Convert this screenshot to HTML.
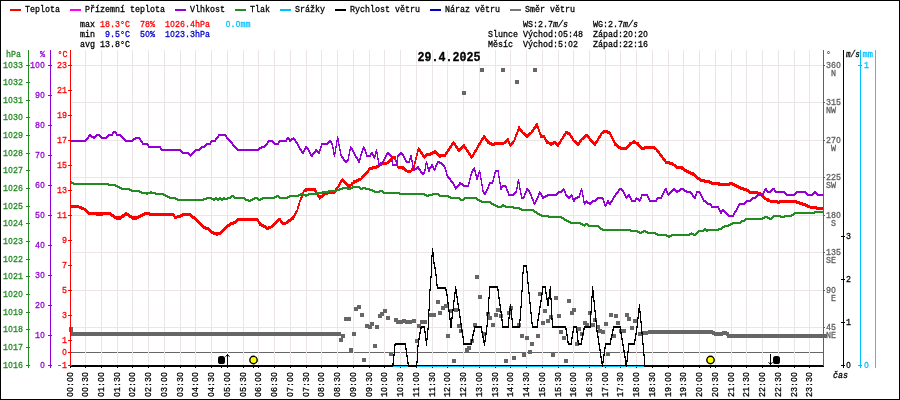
<!DOCTYPE html>
<html><head><meta charset="utf-8"><title>Graf 29.4.2025</title>
<style>html,body{margin:0;padding:0;background:#fff;}svg{display:block;will-change:transform;}text{font-family:"Liberation Mono",monospace;white-space:pre;stroke-width:0.3px;paint-order:stroke fill;}.z{font-family:"Liberation Sans",sans-serif;}</style>
</head><body>
<svg width="900" height="400" viewBox="0 0 900 400">
<rect x="0" y="0" width="900" height="400" fill="#fff"/>
<g shape-rendering="crispEdges">
<rect x="71" y="352" width="752" height="1" fill="#666666"/>
<rect x="85" y="50" width="1" height="315" fill="#ece5e5"/>
<rect x="101" y="50" width="1" height="315" fill="#ece5e5"/>
<rect x="117" y="50" width="1" height="315" fill="#ece5e5"/>
<rect x="132" y="50" width="1" height="315" fill="#ece5e5"/>
<rect x="148" y="50" width="1" height="315" fill="#ece5e5"/>
<rect x="164" y="50" width="1" height="315" fill="#ece5e5"/>
<rect x="180" y="50" width="1" height="315" fill="#ece5e5"/>
<rect x="195" y="50" width="1" height="315" fill="#ece5e5"/>
<rect x="211" y="50" width="1" height="315" fill="#ece5e5"/>
<rect x="227" y="50" width="1" height="315" fill="#ece5e5"/>
<rect x="243" y="50" width="1" height="315" fill="#ece5e5"/>
<rect x="258" y="50" width="1" height="315" fill="#ece5e5"/>
<rect x="274" y="50" width="1" height="315" fill="#ece5e5"/>
<rect x="290" y="50" width="1" height="315" fill="#ece5e5"/>
<rect x="306" y="50" width="1" height="315" fill="#ece5e5"/>
<rect x="321" y="50" width="1" height="315" fill="#ece5e5"/>
<rect x="337" y="50" width="1" height="315" fill="#ece5e5"/>
<rect x="353" y="50" width="1" height="315" fill="#ece5e5"/>
<rect x="369" y="50" width="1" height="315" fill="#ece5e5"/>
<rect x="384" y="50" width="1" height="315" fill="#ece5e5"/>
<rect x="400" y="50" width="1" height="315" fill="#ece5e5"/>
<rect x="416" y="50" width="1" height="315" fill="#ece5e5"/>
<rect x="432" y="50" width="1" height="315" fill="#ece5e5"/>
<rect x="447" y="50" width="1" height="315" fill="#ece5e5"/>
<rect x="463" y="50" width="1" height="315" fill="#ece5e5"/>
<rect x="479" y="50" width="1" height="315" fill="#ece5e5"/>
<rect x="495" y="50" width="1" height="315" fill="#ece5e5"/>
<rect x="510" y="50" width="1" height="315" fill="#ece5e5"/>
<rect x="526" y="50" width="1" height="315" fill="#ece5e5"/>
<rect x="542" y="50" width="1" height="315" fill="#ece5e5"/>
<rect x="558" y="50" width="1" height="315" fill="#ece5e5"/>
<rect x="573" y="50" width="1" height="315" fill="#ece5e5"/>
<rect x="589" y="50" width="1" height="315" fill="#ece5e5"/>
<rect x="605" y="50" width="1" height="315" fill="#ece5e5"/>
<rect x="620" y="50" width="1" height="315" fill="#ece5e5"/>
<rect x="636" y="50" width="1" height="315" fill="#ece5e5"/>
<rect x="652" y="50" width="1" height="315" fill="#ece5e5"/>
<rect x="668" y="50" width="1" height="315" fill="#ece5e5"/>
<rect x="683" y="50" width="1" height="315" fill="#ece5e5"/>
<rect x="699" y="50" width="1" height="315" fill="#ece5e5"/>
<rect x="715" y="50" width="1" height="315" fill="#ece5e5"/>
<rect x="731" y="50" width="1" height="315" fill="#ece5e5"/>
<rect x="746" y="50" width="1" height="315" fill="#ece5e5"/>
<rect x="762" y="50" width="1" height="315" fill="#ece5e5"/>
<rect x="778" y="50" width="1" height="315" fill="#ece5e5"/>
<rect x="794" y="50" width="1" height="315" fill="#ece5e5"/>
<rect x="809" y="50" width="1" height="315" fill="#ece5e5"/>
<rect x="72" y="65" width="751" height="1" fill="#ece5e5"/>
<rect x="72" y="102" width="751" height="1" fill="#ece5e5"/>
<rect x="72" y="140" width="751" height="1" fill="#ece5e5"/>
<rect x="72" y="177" width="751" height="1" fill="#ece5e5"/>
<rect x="72" y="215" width="751" height="1" fill="#ece5e5"/>
<rect x="72" y="252" width="751" height="1" fill="#ece5e5"/>
<rect x="72" y="290" width="751" height="1" fill="#ece5e5"/>
<rect x="72" y="327" width="751" height="1" fill="#ece5e5"/>
<rect x="72" y="365" width="751" height="1" fill="#ece5e5"/>
</g>
<g shape-rendering="crispEdges">
<path d="M71 205H79V206H82V207H84V208H86V209H87V210H88V211H89V212H111V213H112V214H114V215H115V216H121V215H122V214H124V213H125V212H127V213H129V214H130V215H132V216H138V215H140V214H142V213H144V212H150V213H174V214H175V216H177V215H180V214H182V213H191V214H192V215H193V216H195V217H196V218H197V219H198V220H199V221H200V222H201V223H202V224H203V225H204V226H206V227H209V228H210V229H211V230H212V231H214V232H220V231H221V230H222V229H223V228H224V227H225V226H226V225H227V224H229V223H230V222H233V221H235V220H236V219H237V218H258V219H259V221H260V222H261V223H262V224H264V225H266V226H267V227H268V226H271V225H272V224H273V223H274V222H275V221H276V220H277V219H278V218H281V220H282V221H283V222H286V221H287V220H288V219H290V218H291V217H292V216H293V215H294V213H295V211H296V210H297V206H298V203H299V200H300V197H301V194H302V192H303V190H304V189H305V188H316V190H317V192H318V194H319V195H322V194H323V193H324V192H327V191H334V190H335V188H336V187H337V186H338V184H339V182H340V180H341V179H342V178H343V179H344V180H345V181H346V182H347V183H348V184H351V182H353V180H356V179H358V178H361V176H362V175H363V174H364V173H365V172H366V171H367V170H368V168H369V167H372V166H376V165H378V164H379V163H380V162H387V161H388V160H389V159H390V158H391V157H392V156H396V160H397V162H398V166H404V167H405V168H406V169H407V170H411V168H412V167H413V165H414V161H415V157H416V153H417V149H418V147H419V148H420V149H421V151H422V152H423V154H424V155H425V154H426V153H430V152H432V151H434V150H436V151H437V152H438V153H439V154H445V152H446V151H447V149H448V148H449V146H450V145H451V143H452V142H453V141H454V142H455V143H456V145H457V146H458V148H460V147H461V146H462V145H463V144H465V146H466V147H467V149H468V150H469V152H470V153H471V155H472V154H473V152H474V150H475V149H476V147H477V145H478V143H479V142H480V140H481V138H482V137H483V135H485V136H486V138H487V139H488V140H489V141H490V142H492V143H494V142H504V141H505V140H506V139H507V138H509V141H510V143H511V142H512V141H513V140H514V137H515V134H516V132H517V129H518V126H520V128H521V129H522V130H523V132H525V133H526V134H528V133H529V132H531V130H532V129H533V127H534V126H535V124H536V123H538V126H539V129H540V132H541V134H542V135H545V137H546V139H547V140H548V141H549V142H553V141H556V142H557V143H558V142H559V141H560V139H561V138H562V136H563V134H564V133H565V131H568V132H570V133H571V135H572V136H573V138H574V140H576V141H577V142H579V140H580V139H581V138H582V137H583V136H584V135H585V134H588V135H589V136H590V138H591V139H592V140H593V141H594V142H595V141H596V140H597V138H598V136H599V135H600V133H601V132H602V131H603V130H608V131H610V132H611V134H612V136H613V138H614V140H615V142H616V143H617V144H618V145H619V146H621V147H626V146H627V145H628V144H629V142H632V141H633V140H635V141H636V142H639V144H640V145H641V146H642V147H644V146H655V147H656V148H657V149H658V150H659V151H660V153H661V154H662V155H663V157H664V158H665V159H666V161H670V162H673V163H674V164H676V165H677V166H683V167H684V168H685V169H687V170H689V171H691V172H694V173H695V174H696V175H697V176H698V177H700V178H701V179H705V180H710V181H712V182H720V183H729V182H733V183H735V184H737V185H739V186H741V187H744V188H747V189H749V190H750V191H758V192H761V193H762V194H763V195H764V196H765V197H766V198H769V199H770V200H778V201H779V200H797V201H800V202H803V203H806V204H808V205H810V206H817V207H823V210H816V209H810V208H807V207H805V206H802V205H799V204H796V203H780V204H777V203H770V202H767V201H766V200H764V199H763V198H762V197H761V196H759V195H757V194H749V193H748V192H746V191H743V190H740V189H738V188H736V187H734V186H732V185H730V186H718V185H711V184H709V183H704V182H700V181H699V180H697V179H696V178H695V177H694V176H692V175H690V174H688V173H686V172H684V171H683V170H681V169H676V168H675V167H674V166H672V165H669V164H665V162H664V161H663V160H662V158H661V157H660V156H659V154H658V153H657V152H656V150H654V149H645V150H641V149H640V148H639V147H638V146H637V145H636V144H632V145H631V146H630V147H629V148H628V149H627V150H620V149H618V148H617V147H616V146H614V143H613V141H612V139H611V137H610V135H609V134H607V133H604V134H602V136H601V138H600V139H599V141H598V143H597V144H596V146H594V145H593V144H592V143H591V142H590V141H589V139H588V138H587V137H586V138H585V139H584V140H582V142H581V143H580V145H579V146H577V145H576V144H575V143H574V142H573V141H572V139H571V138H570V136H569V135H567V134H566V136H565V137H564V139H563V140H562V142H561V144H560V145H559V147H557V146H556V145H555V144H554V145H552V146H550V145H549V144H546V142H545V140H544V138H540V135H539V132H538V129H537V128H536V129H535V130H534V132H533V133H532V134H531V135H530V136H529V137H528V138H526V137H525V136H524V135H523V134H522V133H521V132H520V131H519V132H518V135H517V137H516V140H515V142H514V144H513V145H512V146H511V147H510V146H509V144H508V142H507V143H506V144H504V145H495V146H491V145H489V144H487V142H486V141H485V139H484V140H483V141H482V143H481V145H480V146H479V148H478V150H477V152H476V153H475V155H474V157H473V158H472V159H471V158H470V156H469V155H468V153H467V152H466V150H465V149H464V148H463V149H462V150H461V151H460V152H458V151H457V149H456V148H455V146H454V145H453V146H452V148H451V149H450V151H449V152H448V154H447V155H446V157H441V158H439V157H438V156H437V155H436V154H433V155H431V156H427V157H426V158H425V159H424V158H423V157H422V155H421V154H420V152H418V156H417V160H416V164H415V168H414V170H413V171H412V172H411V173H407V172H405V171H404V170H402V169H398V168H397V166H396V162H395V160H394V159H393V160H392V161H391V162H390V163H389V164H387V165H382V166H380V167H379V168H377V169H373V170H370V171H369V173H368V174H367V175H366V176H365V177H364V178H363V179H362V180H361V181H359V182H357V183H355V184H353V186H351V188H348V187H347V186H346V185H345V184H344V183H343V182H342V183H341V185H340V187H339V188H338V190H337V191H336V193H335V194H328V195H325V196H324V197H323V198H321V199H320V200H319V198H318V197H317V195H316V193H315V192H314V191H307V192H304V195H303V198H302V200H301V202H300V206H299V209H298V212H297V214H296V216H295V218H294V220H292V221H291V222H289V223H288V224H286V225H282V224H281V223H280V221H279V222H278V223H277V224H276V225H275V226H274V227H273V228H271V229H269V230H266V229H265V228H263V227H261V226H259V224H258V222H257V221H238V222H237V223H236V224H234V225H231V226H230V227H228V228H227V229H226V230H225V231H224V232H223V233H222V234H221V235H218V236H216V235H213V234H211V233H210V232H209V231H208V230H205V229H203V228H202V227H201V226H200V225H199V224H198V223H197V222H196V221H195V220H194V219H192V218H191V217H190V216H183V217H181V218H177V219H174V217H173V216H149V215H145V216H143V217H141V218H139V219H137V220H132V219H131V218H129V217H128V216H125V217H124V218H122V219H121V220H116V219H114V218H113V217H111V216H110V215H103V216H96V215H88V214H87V213H86V212H85V211H84V210H81V209H79V208H71Z" fill="#ff0000"/>
<path d="M71 140H85V139H86V138H87V137H88V135H89V134H91V135H92V136H95V135H96V134H100V135H101V136H102V137H106V136H107V135H108V134H112V132H113V131H116V132H117V134H121V135H122V136H123V137H124V138H125V139H126V140H132V139H133V138H135V137H140V138H141V140H142V141H143V143H148V144H149V146H161V148H162V149H181V150H182V151H183V152H189V153H190V154H191V153H192V152H193V151H194V150H195V149H199V148H200V147H201V146H204V145H205V144H206V143H210V141H211V140H215V138H216V137H217V136H218V134H226V135H227V137H228V138H229V139H230V140H231V141H232V142H233V144H234V145H235V146H236V147H237V148H238V149H258V148H259V147H261V146H264V145H265V144H266V143H267V141H268V140H273V141H274V142H275V143H278V141H279V140H286V138H287V137H289V138H290V139H291V138H293V137H294V138H295V139H296V141H297V142H298V144H299V146H300V148H301V149H302V151H303V150H304V148H305V146H307V147H308V148H309V150H310V152H311V154H312V153H313V152H314V151H315V149H317V150H318V151H319V149H320V146H321V143H327V142H328V141H329V140H331V141H332V143H333V147H334V152H335V146H336V140H337V136H338V138H339V144H340V149H341V154H342V156H343V157H344V159H345V160H347V159H348V154H349V149H350V146H351V147H352V148H353V150H354V152H355V154H356V156H357V157H358V159H359V158H360V154H361V151H362V148H363V146H364V147H365V149H366V152H367V155H370V153H371V152H373V154H374V155H375V151H376V149H377V152H378V158H379V163H380V162H382V161H383V159H384V157H385V155H386V153H387V152H389V153H390V154H391V155H392V160H393V164H396V160H397V155H398V154H399V153H400V152H402V153H403V154H404V156H405V158H406V160H407V161H409V158H410V155H412V160H413V166H414V168H416V167H417V166H419V168H420V169H421V171H422V172H424V169H425V163H426V161H427V163H428V167H430V166H431V164H433V166H434V168H435V165H436V163H437V161H440V162H442V163H443V164H444V165H445V167H446V170H447V174H448V176H449V177H450V178H451V180H452V181H453V182H454V184H455V186H457V185H458V184H459V182H461V183H463V184H464V185H468V182H469V178H470V174H471V171H472V169H473V168H474V167H475V170H476V174H477V175H478V172H479V170H480V172H481V178H482V184H483V190H484V192H485V191H486V189H487V187H488V184H489V182H492V180H493V176H494V172H495V170H499V176H500V182H501V186H502V185H506V186H507V189H508V191H509V194H513V193H514V192H515V191H516V187H517V181H518V179H519V182H520V188H521V193H522V197H523V196H524V193H525V191H526V188H528V189H529V190H530V192H531V194H532V197H533V199H534V202H535V200H536V198H537V196H538V193H539V191H540V192H541V193H542V195H543V196H545V195H547V194H556V193H557V192H558V191H561V190H562V189H563V188H564V189H565V191H566V194H567V195H568V196H570V195H571V194H572V195H573V198H575V197H577V196H579V193H580V190H581V188H582V190H583V195H584V201H586V200H587V201H588V202H591V201H592V200H595V199H596V198H597V197H603V198H604V201H605V204H606V202H607V200H609V202H610V201H611V200H612V198H613V196H614V195H615V193H616V192H617V191H618V189H619V188H622V189H623V190H624V192H625V194H626V196H627V195H628V194H630V196H631V198H632V200H635V198H636V197H637V198H639V199H640V197H641V194H648V196H649V198H650V200H656V198H657V197H661V195H662V193H663V191H664V189H665V188H667V191H668V193H669V192H670V191H671V190H672V189H673V188H675V189H676V190H679V189H680V188H684V189H685V190H687V191H691V192H692V193H693V195H694V196H695V194H696V191H700V192H701V194H702V196H703V198H704V200H706V201H707V202H708V203H711V204H712V206H719V208H720V210H722V209H724V210H725V211H726V212H727V213H728V214H729V215H733V213H734V211H735V210H736V208H737V206H738V204H739V203H744V202H745V201H746V200H750V199H751V198H752V197H755V196H756V195H757V194H762V193H763V191H764V189H765V188H767V190H768V191H770V190H771V189H772V188H775V190H776V191H785V192H786V193H787V194H794V193H795V192H796V191H806V192H807V193H808V194H812V193H813V192H814V191H816V192H817V193H818V194H823V196H817V195H816V194H814V195H813V196H807V195H806V194H805V193H797V194H796V195H795V196H786V195H785V194H784V193H775V192H774V190H773V191H772V192H771V193H767V192H766V191H765V193H764V195H763V196H758V197H757V198H756V199H753V200H752V201H751V202H747V203H746V204H745V205H740V206H739V208H738V210H737V212H736V213H735V215H734V217H728V216H727V215H726V214H725V213H724V212H722V214H720V212H719V210H718V208H711V206H710V205H707V204H706V203H705V202H703V200H702V198H701V196H700V194H699V193H697V196H696V199H694V198H693V197H692V195H691V194H690V193H686V192H684V191H683V190H681V191H680V192H678V193H676V192H675V191H673V192H672V193H671V194H670V195H669V196H668V195H667V193H666V191H665V193H664V195H663V197H662V199H658V200H657V202H649V200H648V198H647V196H642V199H641V201H640V202H639V201H638V200H636V202H631V200H630V198H629V197H628V198H627V199H626V198H625V196H624V194H623V192H622V191H621V190H620V191H619V193H618V194H617V195H616V197H615V198H614V200H613V202H612V203H611V205H609V204H607V206H606V207H605V206H604V203H603V200H602V199H598V200H597V201H596V202H593V203H592V204H591V205H589V204H587V203H586V204H585V205H584V203H583V197H582V192H581V195H580V198H578V199H576V200H575V202H573V200H572V197H571V198H570V199H568V198H567V197H566V196H565V193H564V191H563V192H562V193H559V194H558V195H557V196H548V197H546V198H544V199H542V197H541V195H539V198H538V200H537V202H536V204H535V205H534V204H533V201H532V199H531V196H530V194H529V192H528V191H527V193H526V195H525V198H524V199H521V195H520V190H519V184H518V189H517V193H516V194H515V195H514V196H508V193H507V191H506V188H505V187H503V188H502V190H500V184H499V178H498V172H496V174H495V178H494V182H493V184H490V186H489V189H488V191H487V193H486V195H484V194H483V192H482V186H481V180H480V174H479V177H478V180H476V176H475V172H474V171H473V173H472V176H471V180H470V184H469V187H463V186H462V185H460V186H459V187H458V188H457V189H456V190H455V188H454V186H453V184H452V183H451V182H450V180H449V179H448V178H447V176H446V172H445V169H444V167H443V166H442V165H441V164H439V163H438V165H437V167H436V170H435V171H434V170H433V168H431V169H430V172H428V169H427V165H426V171H425V174H424V175H422V174H421V173H420V171H419V170H418V169H417V170H415V171H413V168H412V162H411V160H410V163H406V162H405V160H404V158H403V156H402V155H400V156H399V157H398V162H397V166H392V162H391V157H390V156H389V155H387V157H386V159H385V161H384V163H383V164H381V165H380V166H378V160H377V154H376V157H375V159H374V158H373V156H372V155H371V157H366V154H365V151H364V150H363V153H362V156H361V160H360V163H358V161H357V159H356V158H355V156H354V154H353V152H352V150H351V151H350V156H349V161H348V162H347V163H345V162H344V161H343V159H342V158H341V156H340V151H339V146H338V142H337V148H336V154H335V157H334V155H333V149H332V145H331V143H329V144H328V145H322V148H321V151H320V154H318V153H317V152H316V153H315V154H314V155H313V157H311V156H310V154H309V152H308V150H307V149H306V150H305V152H304V154H302V153H301V151H300V150H299V148H298V146H297V144H296V143H295V141H294V140H292V141H291V142H289V140H287V142H280V143H279V145H274V144H273V143H272V142H269V143H268V145H267V146H266V147H265V148H262V149H260V150H259V151H237V150H236V149H235V148H234V147H233V146H232V144H231V143H230V142H229V141H228V140H227V139H226V137H225V136H219V138H218V139H217V140H216V142H212V143H211V145H207V146H206V147H205V148H202V149H201V150H200V151H196V152H195V153H194V154H193V155H192V156H191V157H190V156H189V155H188V154H182V153H181V152H180V151H161V150H160V148H148V146H147V145H142V143H141V142H140V140H139V139H136V140H134V141H133V142H125V141H124V140H123V139H122V138H121V137H120V136H116V134H115V133H114V134H113V136H109V137H108V138H107V139H101V138H100V137H99V136H97V137H96V138H95V139H93V138H91V137H89V139H88V140H87V141H86V142H71Z" fill="#9400d3"/>
<path d="M71 181H72V182H74V183H109V184H116V185H118V186H120V187H122V188H130V189H132V190H140V191H142V192H150V191H152V192H156V193H164V194H166V195H168V196H170V197H176V198H178V199H203V198H206V197H212V198H215V197H217V198H219V197H221V198H223V197H225V198H227V197H230V196H231V195H234V196H235V197H245V198H246V199H249V200H250V199H252V198H254V197H258V198H259V199H260V198H262V197H274V196H276V195H279V196H280V197H287V196H289V195H298V194H300V193H304V194H308V193H316V192H322V191H328V190H336V189H339V188H342V187H348V188H350V187H352V186H360V187H361V188H362V187H366V188H370V189H373V190H375V191H379V190H383V191H384V192H400V193H425V194H427V195H428V194H432V193H439V194H440V195H449V196H451V197H460V198H461V199H463V198H464V197H477V198H478V199H480V200H482V201H491V202H492V203H494V204H496V205H498V206H501V205H502V204H504V205H506V206H514V207H520V208H522V209H534V210H535V211H537V212H538V213H540V214H542V215H549V216H562V217H564V218H565V219H567V220H569V221H571V222H581V223H583V224H585V223H588V224H589V225H599V226H600V227H601V228H603V229H631V230H638V231H640V232H641V231H643V230H646V231H648V232H656V233H658V234H667V235H671V234H689V233H691V232H692V233H694V234H695V233H696V232H697V231H698V230H703V229H704V228H706V229H718V228H721V227H722V226H724V225H728V224H730V223H732V222H740V221H741V220H744V219H745V218H762V217H764V216H768V217H770V218H771V217H772V216H773V215H781V216H784V215H791V214H793V213H794V212H814V211H823V213H815V214H795V215H794V216H792V217H785V218H780V217H774V218H773V219H772V220H769V219H767V218H765V219H763V220H746V221H745V222H742V223H741V224H733V225H731V226H729V227H725V228H723V229H722V230H719V231H708V232H706V231H704V232H699V233H698V234H697V235H696V236H693V235H690V236H672V237H670V238H668V237H666V236H657V235H655V234H647V233H645V232H644V233H642V234H639V233H637V232H630V231H602V230H600V229H599V228H598V227H588V226H587V225H586V226H585V227H584V226H582V225H580V224H570V223H568V222H566V221H564V220H563V219H561V218H548V217H541V216H539V215H537V214H536V213H534V212H533V211H521V210H519V209H513V208H505V207H502V208H497V207H495V206H493V205H491V204H490V203H481V202H479V201H477V200H476V199H465V200H464V201H460V200H459V199H450V198H448V197H439V196H438V195H433V196H429V197H426V196H424V195H399V194H383V193H382V192H380V193H374V192H372V191H369V190H365V189H363V190H360V189H359V188H353V189H351V190H347V189H343V190H340V191H337V192H329V193H323V194H317V195H309V196H307V197H305V196H303V195H301V196H299V197H290V198H288V199H279V198H278V197H277V198H275V199H263V200H261V201H258V200H257V199H255V200H253V201H251V202H248V201H245V200H244V199H234V198H233V197H232V198H231V199H228V200H223V201H221V200H219V201H217V200H215V201H213V200H211V199H207V200H204V201H177V200H175V199H169V198H167V197H165V196H163V195H155V194H148V195H146V194H141V193H139V192H131V191H129V190H121V189H119V188H117V187H115V186H108V185H73V184H71Z" fill="#228b22"/>
<rect x="70" y="365" width="754" height="2" fill="#00bfff"/>
<rect x="70" y="365" width="754" height="1" fill="#000"/>
</g>
<g shape-rendering="crispEdges" fill="#666666">
<rect x="71" y="332" width="270" height="4"/>
<rect x="642" y="331" width="6" height="4"/>
<rect x="648" y="330" width="65" height="4"/>
<rect x="712" y="331" width="3" height="4"/>
<rect x="714" y="332" width="9" height="4"/>
<rect x="722" y="331" width="5" height="4"/>
<rect x="726" y="332" width="3" height="4"/>
<rect x="727" y="334" width="100" height="4"/>
<rect x="339" y="338" width="4" height="4"/>
<rect x="341" y="334" width="4" height="4"/>
<rect x="344" y="317" width="4" height="4"/>
<rect x="347" y="317" width="4" height="4"/>
<rect x="349" y="348" width="4" height="4"/>
<rect x="352" y="332" width="4" height="4"/>
<rect x="354" y="307" width="4" height="4"/>
<rect x="357" y="305" width="4" height="4"/>
<rect x="360" y="313" width="4" height="4"/>
<rect x="362" y="358" width="4" height="4"/>
<rect x="365" y="324" width="4" height="4"/>
<rect x="368" y="325" width="4" height="4"/>
<rect x="370" y="322" width="4" height="4"/>
<rect x="373" y="344" width="4" height="4"/>
<rect x="375" y="325" width="4" height="4"/>
<rect x="378" y="314" width="4" height="4"/>
<rect x="380" y="312" width="4" height="4"/>
<rect x="383" y="309" width="4" height="4"/>
<rect x="386" y="316" width="4" height="4"/>
<rect x="389" y="352" width="4" height="4"/>
<rect x="394" y="318" width="4" height="4"/>
<rect x="396" y="320" width="4" height="4"/>
<rect x="399" y="320" width="4" height="4"/>
<rect x="402" y="319" width="4" height="4"/>
<rect x="405" y="320" width="4" height="4"/>
<rect x="408" y="320" width="4" height="4"/>
<rect x="412" y="319" width="4" height="4"/>
<rect x="415" y="339" width="4" height="4"/>
<rect x="417" y="324" width="4" height="4"/>
<rect x="420" y="320" width="4" height="4"/>
<rect x="423" y="320" width="4" height="4"/>
<rect x="429" y="313" width="4" height="4"/>
<rect x="432" y="313" width="4" height="4"/>
<rect x="436" y="300" width="4" height="4"/>
<rect x="438" y="311" width="4" height="4"/>
<rect x="441" y="306" width="4" height="4"/>
<rect x="444" y="304" width="4" height="4"/>
<rect x="446" y="334" width="4" height="4"/>
<rect x="449" y="309" width="4" height="4"/>
<rect x="452" y="359" width="4" height="4"/>
<rect x="454" y="308" width="4" height="4"/>
<rect x="457" y="324" width="4" height="4"/>
<rect x="459" y="329" width="4" height="4"/>
<rect x="465" y="348" width="4" height="4"/>
<rect x="467" y="346" width="4" height="4"/>
<rect x="470" y="339" width="4" height="4"/>
<rect x="473" y="323" width="4" height="4"/>
<rect x="475" y="275" width="4" height="4"/>
<rect x="478" y="295" width="4" height="4"/>
<rect x="482" y="332" width="4" height="4"/>
<rect x="486" y="312" width="4" height="4"/>
<rect x="488" y="316" width="4" height="4"/>
<rect x="491" y="323" width="4" height="4"/>
<rect x="494" y="313" width="4" height="4"/>
<rect x="496" y="308" width="4" height="4"/>
<rect x="499" y="314" width="4" height="4"/>
<rect x="504" y="359" width="4" height="4"/>
<rect x="507" y="311" width="4" height="4"/>
<rect x="509" y="306" width="4" height="4"/>
<rect x="512" y="356" width="4" height="4"/>
<rect x="517" y="323" width="4" height="4"/>
<rect x="520" y="334" width="4" height="4"/>
<rect x="522" y="353" width="4" height="4"/>
<rect x="525" y="336" width="4" height="4"/>
<rect x="528" y="350" width="4" height="4"/>
<rect x="530" y="342" width="4" height="4"/>
<rect x="536" y="334" width="4" height="4"/>
<rect x="538" y="292" width="4" height="4"/>
<rect x="541" y="321" width="4" height="4"/>
<rect x="543" y="309" width="4" height="4"/>
<rect x="546" y="319" width="4" height="4"/>
<rect x="549" y="315" width="4" height="4"/>
<rect x="551" y="353" width="4" height="4"/>
<rect x="554" y="296" width="4" height="4"/>
<rect x="557" y="314" width="4" height="4"/>
<rect x="559" y="330" width="4" height="4"/>
<rect x="562" y="336" width="4" height="4"/>
<rect x="564" y="359" width="4" height="4"/>
<rect x="567" y="299" width="4" height="4"/>
<rect x="570" y="311" width="4" height="4"/>
<rect x="572" y="308" width="4" height="4"/>
<rect x="575" y="342" width="4" height="4"/>
<rect x="577" y="327" width="4" height="4"/>
<rect x="580" y="332" width="4" height="4"/>
<rect x="583" y="321" width="4" height="4"/>
<rect x="585" y="323" width="4" height="4"/>
<rect x="588" y="311" width="4" height="4"/>
<rect x="591" y="323" width="4" height="4"/>
<rect x="593" y="318" width="4" height="4"/>
<rect x="596" y="325" width="4" height="4"/>
<rect x="598" y="329" width="4" height="4"/>
<rect x="601" y="330" width="4" height="4"/>
<rect x="604" y="322" width="4" height="4"/>
<rect x="606" y="352" width="4" height="4"/>
<rect x="609" y="313" width="4" height="4"/>
<rect x="612" y="334" width="4" height="4"/>
<rect x="614" y="314" width="4" height="4"/>
<rect x="616" y="321" width="4" height="4"/>
<rect x="619" y="329" width="4" height="4"/>
<rect x="622" y="329" width="4" height="4"/>
<rect x="625" y="313" width="4" height="4"/>
<rect x="627" y="317" width="4" height="4"/>
<rect x="630" y="326" width="4" height="4"/>
<rect x="633" y="319" width="4" height="4"/>
<rect x="69" y="327" width="4" height="4"/>
<rect x="69" y="328" width="4" height="4"/>
<rect x="462" y="91" width="4" height="4"/>
<rect x="480" y="68" width="4" height="4"/>
<rect x="501" y="68" width="4" height="4"/>
<rect x="515" y="80" width="4" height="4"/>
<rect x="533" y="68" width="4" height="4"/>
<rect x="638" y="332" width="4" height="4"/>
</g>
<g shape-rendering="crispEdges">
<path d="M71 365H392V363H393V354H394V344H395V343H406V348H407V355H408V362H409V365H416V361H417V345H418V338H419V332H420V327H421V326H425V331H426V338H427V328H428V309H429V289H430V276H431V255H432V248H433V252H434V262H435V267H436V274H437V284H438V287H446V289H447V294H448V302H449V310H450V318H451V317H452V309H453V300H454V292H455V286H456V289H457V296H458V303H459V309H460V316H461V323H462V330H463V336H464V343H471V339H472V334H473V330H474V326H482V331H483V336H484V340H485V333H486V325H487V312H488V297H489V286H498V289H499V297H500V304H501V311H502V319H503V326H508V317H509V308H510V304H511V309H512V318H513V326H519V319H520V306H521V290H522V272H523V265H527V271H528V282H529V292H530V302H531V312H532V322H533V326H537V319H538V313H539V306H540V300H541V293H542V286H546V292H547V298H548V297H549V289H550V286H551V298H552V318H553V326H566V328H567V334H568V341H569V343H571V337H572V331H573V326H577V331H578V340H579V343H581V338H582V333H583V328H584V326H590V311H591V296H592V286H593V290H594V300H595V310H596V320H597V330H598V336H599V343H600V349H601V356H602V361H603V354H604V347H605V343H610V338H611V334H612V329H613V326H621V332H622V338H623V344H624V350H625V356H626V360H627V351H628V343H634V339H635V333H636V326H637V317H638V308H639V304H640V311H641V321H642V332H643V343H644V354H645V365H823V367H644V356H643V345H642V334H641V323H640V313H639V319H638V328H637V335H636V341H635V345H629V353H628V362H627V367H626V365H625V358H624V352H623V346H622V340H621V334H620V328H614V331H613V336H612V340H611V345H606V349H605V356H604V363H603V367H602V364H601V358H600V351H599V345H598V338H597V332H596V322H595V312H594V302H593V298H592V313H591V328H585V330H584V335H583V340H582V345H578V342H577V333H576V328H574V333H573V339H572V345H568V343H567V336H566V330H565V328H552V320H551V300H550V299H549V306H547V300H546V294H545V288H543V295H542V302H541V308H540V315H539V321H538V328H532V324H531V314H530V304H529V294H528V284H527V273H526V267H524V274H523V292H522V308H521V321H520V328H512V320H511V311H510V319H509V328H502V321H501V313H500V306H499V299H498V291H497V288H490V299H489V314H488V327H487V335H486V342H485V346H484V343H483V338H482V333H481V328H475V332H474V336H473V341H472V345H463V338H462V332H461V325H460V318H459V311H458V305H457V298H456V294H455V302H454V311H453V319H452V328H450V320H449V312H448V304H447V296H446V291H445V289H437V286H436V276H435V269H434V264H433V257H432V278H431V291H430V311H429V330H428V340H427V346H426V341H425V333H424V328H422V329H421V334H420V340H419V347H418V363H417V367H408V364H407V357H406V350H405V345H396V346H395V356H394V365H393V367H71Z" fill="#000"/>
</g>
<g shape-rendering="crispEdges">
<rect x="70" y="365" width="322" height="2" fill="#000"/>
<rect x="409" y="365" width="7" height="2" fill="#000"/>
<rect x="645" y="365" width="179" height="2" fill="#000"/>
</g>
<g shape-rendering="crispEdges">
<rect x="28" y="50" width="1" height="318" fill="#228b22"/>
<rect x="26" y="65" width="4" height="1" fill="#228b22"/>
<rect x="26" y="82" width="4" height="1" fill="#228b22"/>
<rect x="26" y="100" width="4" height="1" fill="#228b22"/>
<rect x="26" y="117" width="4" height="1" fill="#228b22"/>
<rect x="26" y="135" width="4" height="1" fill="#228b22"/>
<rect x="26" y="153" width="4" height="1" fill="#228b22"/>
<rect x="26" y="170" width="4" height="1" fill="#228b22"/>
<rect x="26" y="188" width="4" height="1" fill="#228b22"/>
<rect x="26" y="206" width="4" height="1" fill="#228b22"/>
<rect x="26" y="223" width="4" height="1" fill="#228b22"/>
<rect x="26" y="241" width="4" height="1" fill="#228b22"/>
<rect x="26" y="259" width="4" height="1" fill="#228b22"/>
<rect x="26" y="276" width="4" height="1" fill="#228b22"/>
<rect x="26" y="294" width="4" height="1" fill="#228b22"/>
<rect x="26" y="312" width="4" height="1" fill="#228b22"/>
<rect x="26" y="329" width="4" height="1" fill="#228b22"/>
<rect x="26" y="347" width="4" height="1" fill="#228b22"/>
<rect x="26" y="365" width="4" height="1" fill="#228b22"/>
<rect x="50" y="50" width="1" height="318" fill="#9400d3"/>
<rect x="48" y="65" width="4" height="1" fill="#9400d3"/>
<rect x="48" y="95" width="4" height="1" fill="#9400d3"/>
<rect x="48" y="125" width="4" height="1" fill="#9400d3"/>
<rect x="48" y="155" width="4" height="1" fill="#9400d3"/>
<rect x="48" y="185" width="4" height="1" fill="#9400d3"/>
<rect x="48" y="215" width="4" height="1" fill="#9400d3"/>
<rect x="48" y="245" width="4" height="1" fill="#9400d3"/>
<rect x="48" y="275" width="4" height="1" fill="#9400d3"/>
<rect x="48" y="305" width="4" height="1" fill="#9400d3"/>
<rect x="48" y="335" width="4" height="1" fill="#9400d3"/>
<rect x="48" y="365" width="4" height="1" fill="#9400d3"/>
<rect x="70" y="50" width="1" height="316" fill="#ff0000"/>
<rect x="68" y="65" width="4" height="1" fill="#ff0000"/>
<rect x="68" y="90" width="4" height="1" fill="#ff0000"/>
<rect x="68" y="115" width="4" height="1" fill="#ff0000"/>
<rect x="68" y="140" width="4" height="1" fill="#ff0000"/>
<rect x="68" y="165" width="4" height="1" fill="#ff0000"/>
<rect x="68" y="190" width="4" height="1" fill="#ff0000"/>
<rect x="68" y="215" width="4" height="1" fill="#ff0000"/>
<rect x="68" y="240" width="4" height="1" fill="#ff0000"/>
<rect x="68" y="265" width="4" height="1" fill="#ff0000"/>
<rect x="68" y="290" width="4" height="1" fill="#ff0000"/>
<rect x="68" y="315" width="4" height="1" fill="#ff0000"/>
<rect x="68" y="340" width="4" height="1" fill="#ff0000"/>
<rect x="68" y="352" width="4" height="1" fill="#ff0000"/>
<rect x="68" y="365" width="4" height="1" fill="#ff0000"/>
<rect x="823" y="50" width="1" height="316" fill="#606060"/>
<rect x="823" y="65" width="2" height="1" fill="#606060"/>
<rect x="823" y="102" width="2" height="1" fill="#606060"/>
<rect x="823" y="140" width="2" height="1" fill="#606060"/>
<rect x="823" y="177" width="2" height="1" fill="#606060"/>
<rect x="823" y="215" width="2" height="1" fill="#606060"/>
<rect x="823" y="252" width="2" height="1" fill="#606060"/>
<rect x="823" y="290" width="2" height="1" fill="#606060"/>
<rect x="823" y="327" width="2" height="1" fill="#606060"/>
<rect x="843" y="50" width="1" height="318" fill="#000"/>
<rect x="841" y="365" width="4" height="1" fill="#000"/>
<rect x="841" y="322" width="4" height="1" fill="#000"/>
<rect x="841" y="279" width="4" height="1" fill="#000"/>
<rect x="841" y="236" width="4" height="1" fill="#000"/>
<rect x="860" y="50" width="1" height="318" fill="#00bfff"/>
<rect x="858" y="65" width="4" height="1" fill="#00bfff"/>
<rect x="858" y="365" width="4" height="1" fill="#00bfff"/>
<rect x="875" y="50" width="1" height="318" fill="#ff8c00"/>
<rect x="85" y="367" width="1" height="1" fill="#000"/>
<rect x="101" y="367" width="1" height="1" fill="#000"/>
<rect x="117" y="367" width="1" height="1" fill="#000"/>
<rect x="132" y="367" width="1" height="1" fill="#000"/>
<rect x="148" y="367" width="1" height="1" fill="#000"/>
<rect x="164" y="367" width="1" height="1" fill="#000"/>
<rect x="180" y="367" width="1" height="1" fill="#000"/>
<rect x="195" y="367" width="1" height="1" fill="#000"/>
<rect x="211" y="367" width="1" height="1" fill="#000"/>
<rect x="227" y="367" width="1" height="1" fill="#000"/>
<rect x="243" y="367" width="1" height="1" fill="#000"/>
<rect x="258" y="367" width="1" height="1" fill="#000"/>
<rect x="274" y="367" width="1" height="1" fill="#000"/>
<rect x="290" y="367" width="1" height="1" fill="#000"/>
<rect x="306" y="367" width="1" height="1" fill="#000"/>
<rect x="321" y="367" width="1" height="1" fill="#000"/>
<rect x="337" y="367" width="1" height="1" fill="#000"/>
<rect x="353" y="367" width="1" height="1" fill="#000"/>
<rect x="369" y="367" width="1" height="1" fill="#000"/>
<rect x="384" y="367" width="1" height="1" fill="#000"/>
<rect x="400" y="367" width="1" height="1" fill="#000"/>
<rect x="416" y="367" width="1" height="1" fill="#000"/>
<rect x="432" y="367" width="1" height="1" fill="#000"/>
<rect x="447" y="367" width="1" height="1" fill="#000"/>
<rect x="463" y="367" width="1" height="1" fill="#000"/>
<rect x="479" y="367" width="1" height="1" fill="#000"/>
<rect x="495" y="367" width="1" height="1" fill="#000"/>
<rect x="510" y="367" width="1" height="1" fill="#000"/>
<rect x="526" y="367" width="1" height="1" fill="#000"/>
<rect x="542" y="367" width="1" height="1" fill="#000"/>
<rect x="558" y="367" width="1" height="1" fill="#000"/>
<rect x="573" y="367" width="1" height="1" fill="#000"/>
<rect x="589" y="367" width="1" height="1" fill="#000"/>
<rect x="605" y="367" width="1" height="1" fill="#000"/>
<rect x="620" y="367" width="1" height="1" fill="#000"/>
<rect x="636" y="367" width="1" height="1" fill="#000"/>
<rect x="652" y="367" width="1" height="1" fill="#000"/>
<rect x="668" y="367" width="1" height="1" fill="#000"/>
<rect x="683" y="367" width="1" height="1" fill="#000"/>
<rect x="699" y="367" width="1" height="1" fill="#000"/>
<rect x="715" y="367" width="1" height="1" fill="#000"/>
<rect x="731" y="367" width="1" height="1" fill="#000"/>
<rect x="746" y="367" width="1" height="1" fill="#000"/>
<rect x="762" y="367" width="1" height="1" fill="#000"/>
<rect x="778" y="367" width="1" height="1" fill="#000"/>
<rect x="794" y="367" width="1" height="1" fill="#000"/>
<rect x="809" y="367" width="1" height="1" fill="#000"/>
<rect x="70" y="367" width="1" height="1" fill="#000"/>
<rect x="221" y="367" width="1" height="1" fill="#000"/>
<rect x="253" y="367" width="1" height="1" fill="#000"/>
<rect x="710" y="367" width="1" height="1" fill="#000"/>
</g>
<rect x="218.0" y="356" width="7" height="8" rx="2.6" ry="2.6" fill="#000"/>
<circle cx="253.5" cy="360" r="3.7" fill="#ffff00" stroke="#000" stroke-width="1.4"/>
<circle cx="710.5" cy="360" r="3.7" fill="#ffff00" stroke="#000" stroke-width="1.4"/>
<rect x="773.0" y="356" width="7" height="8" rx="2.6" ry="2.6" fill="#000"/>
<g shape-rendering="crispEdges">
<rect x="227" y="354" width="1" height="11" fill="#000"/>
<rect x="770" y="354" width="1" height="11" fill="#000"/>
</g>
<path d="M225.5 356.8 L227.5 354.5 L229.5 356.8" fill="none" stroke="#000" stroke-width="1"/>
<path d="M768.5 362.2 L770.5 364.5 L772.5 362.2" fill="none" stroke="#000" stroke-width="1"/>
<g shape-rendering="crispEdges">
<rect x="10" y="9" width="11" height="2" fill="#ff0000"/>
<rect x="70" y="9" width="11" height="2" fill="#ff00ff"/>
<rect x="175" y="9" width="11" height="2" fill="#9400d3"/>
<rect x="235" y="9" width="11" height="2" fill="#228b22"/>
<rect x="280" y="9" width="11" height="2" fill="#00bfff"/>
<rect x="335" y="9" width="11" height="2" fill="#000"/>
<rect x="430" y="9" width="11" height="2" fill="#0000cd"/>
<rect x="510" y="9" width="11" height="2" fill="#777777"/>
</g>
<text transform="translate(25,12) scale(0.8961,1)" x="2.79 8.37 13.95 19.53 25.11 30.69 36.27" text-anchor="middle" fill="#000" stroke="#000" font-size="9.3">Teplota</text>
<text transform="translate(85,12) scale(0.8961,1)" x="2.79 8.37 13.95 19.53 25.11 30.69 36.27 41.85 47.43 53.01 58.59 64.17 69.75 75.33 80.91 86.49" text-anchor="middle" fill="#000" stroke="#000" font-size="9.3">Přízemní teplota</text>
<text transform="translate(190,12) scale(0.8961,1)" x="2.79 8.37 13.95 19.53 25.11 30.69 36.27" text-anchor="middle" fill="#000" stroke="#000" font-size="9.3">Vlhkost</text>
<text transform="translate(250,12) scale(0.8961,1)" x="2.79 8.37 13.95 19.53" text-anchor="middle" fill="#000" stroke="#000" font-size="9.3">Tlak</text>
<text transform="translate(295,12) scale(0.8961,1)" x="2.79 8.37 13.95 19.53 25.11 30.69" text-anchor="middle" fill="#000" stroke="#000" font-size="9.3">Srážky</text>
<text transform="translate(350,12) scale(0.8961,1)" x="2.79 8.37 13.95 19.53 25.11 30.69 36.27 41.85 47.43 53.01 58.59 64.17 69.75 75.33" text-anchor="middle" fill="#000" stroke="#000" font-size="9.3">Rychlost větru</text>
<text transform="translate(445,12) scale(0.8961,1)" x="2.79 8.37 13.95 19.53 25.11 30.69 36.27 41.85 47.43 53.01 58.59" text-anchor="middle" fill="#000" stroke="#000" font-size="9.3">Náraz větru</text>
<text transform="translate(525,12) scale(0.8961,1)" x="2.79 8.37 13.95 19.53 25.11 30.69 36.27 41.85 47.43 53.01" text-anchor="middle" fill="#000" stroke="#000" font-size="9.3">Směr větru</text>
<text transform="translate(80,27) scale(0.8961,1)" x="2.79 8.37 13.95" text-anchor="middle" fill="#000" stroke="#000" font-size="9.3">max</text>
<text transform="translate(100,27) scale(0.8961,1)" x="2.79 8.37 13.95 19.53 25.11 30.69" text-anchor="middle" fill="#ff0000" stroke="#ff0000" font-size="9.3">18.3°C</text>
<text transform="translate(140,27) scale(0.8961,1)" x="2.79 8.37 13.95" text-anchor="middle" fill="#ff0000" stroke="#ff0000" font-size="9.3">78%</text>
<text transform="translate(165,27) scale(0.8961,1)" x="2.79 8.37 13.95 19.53 25.11 30.69 36.27 41.85 47.43" text-anchor="middle" fill="#ff0000" stroke="#ff0000" font-size="9.3">1<tspan class="z" font-size="8.92">0</tspan>26.4hPa</text>
<text transform="translate(225.5,27) scale(0.8961,1)" x="2.79 8.37 13.95 19.53 25.11" text-anchor="middle" fill="#00bfff" stroke="#00bfff" font-size="9.3" stroke-width="0"><tspan class="z" font-size="8.92">0</tspan>.<tspan class="z" font-size="8.92">0</tspan>mm</text>
<text transform="translate(80,37) scale(0.8961,1)" x="2.79 8.37 13.95" text-anchor="middle" fill="#000" stroke="#000" font-size="9.3">min</text>
<text transform="translate(105,37) scale(0.8961,1)" x="2.79 8.37 13.95 19.53 25.11" text-anchor="middle" fill="#0000cd" stroke="#0000cd" font-size="9.3">9.5°C</text>
<text transform="translate(140,37) scale(0.8961,1)" x="2.79 8.37 13.95" text-anchor="middle" fill="#0000cd" stroke="#0000cd" font-size="9.3">5<tspan class="z" font-size="8.92">0</tspan>%</text>
<text transform="translate(165,37) scale(0.8961,1)" x="2.79 8.37 13.95 19.53 25.11 30.69 36.27 41.85 47.43" text-anchor="middle" fill="#0000cd" stroke="#0000cd" font-size="9.3">1<tspan class="z" font-size="8.92">0</tspan>23.3hPa</text>
<text transform="translate(80,47) scale(0.8961,1)" x="2.79 8.37 13.95" text-anchor="middle" fill="#000" stroke="#000" font-size="9.3">avg</text>
<text transform="translate(100,47) scale(0.8961,1)" x="2.79 8.37 13.95 19.53 25.11 30.69" text-anchor="middle" fill="#000" stroke="#000" font-size="9.3">13.8°C</text>
<text transform="translate(523,27) scale(0.8961,1)" x="2.79 8.37 13.95 19.53 25.11 30.69" text-anchor="middle" fill="#000" stroke="#000" font-size="9.3">WS:2.7</text>
<text transform="translate(553,27) scale(0.8961,1)" x="2.79 8.37 13.95" text-anchor="middle" fill="#000" stroke="#000" font-size="9.3" font-style="italic" stroke-width="0.2">m/s</text>
<text transform="translate(593,27) scale(0.8961,1)" x="2.79 8.37 13.95 19.53 25.11 30.69" text-anchor="middle" fill="#000" stroke="#000" font-size="9.3">WG:2.7</text>
<text transform="translate(623,27) scale(0.8961,1)" x="2.79 8.37 13.95" text-anchor="middle" fill="#000" stroke="#000" font-size="9.3" font-style="italic" stroke-width="0.2">m/s</text>
<text transform="translate(488,37) scale(0.8961,1)" x="2.79 8.37 13.95 19.53 25.11 30.69" text-anchor="middle" fill="#000" stroke="#000" font-size="9.3">Slunce</text>
<text transform="translate(523,37) scale(0.8961,1)" x="2.79 8.37 13.95 19.53 25.11 30.69 36.27 41.85 47.43 53.01 58.59 64.17" text-anchor="middle" fill="#000" stroke="#000" font-size="9.3">Východ:<tspan class="z" font-size="8.92">0</tspan>5:48</text>
<text transform="translate(593,37) scale(0.8961,1)" x="2.79 8.37 13.95 19.53 25.11 30.69 36.27 41.85 47.43 53.01 58.59" text-anchor="middle" fill="#000" stroke="#000" font-size="9.3">Západ:2<tspan class="z" font-size="8.92">0</tspan>:2<tspan class="z" font-size="8.92">0</tspan></text>
<text transform="translate(488,47) scale(0.8961,1)" x="2.79 8.37 13.95 19.53 25.11" text-anchor="middle" fill="#000" stroke="#000" font-size="9.3">Měsíc</text>
<text transform="translate(523,47) scale(0.8961,1)" x="2.79 8.37 13.95 19.53 25.11 30.69 36.27 41.85 47.43 53.01 58.59" text-anchor="middle" fill="#000" stroke="#000" font-size="9.3">Východ:5:<tspan class="z" font-size="8.92">0</tspan>2</text>
<text transform="translate(593,47) scale(0.8961,1)" x="2.79 8.37 13.95 19.53 25.11 30.69 36.27 41.85 47.43 53.01 58.59" text-anchor="middle" fill="#000" stroke="#000" font-size="9.3">Západ:22:16</text>
<text transform="translate(417.5,61.4) scale(0.9485,1)" x="3.69 11.07 18.45 25.83 33.21 40.59 47.97 55.35 62.73" text-anchor="middle" fill="#000" stroke="#000" font-size="12.3" font-weight="bold" stroke-width="0.45">29.4.2025</text>
<text transform="translate(6,57) scale(0.8961,1)" x="2.79 8.37 13.95" text-anchor="middle" fill="#228b22" stroke="#228b22" font-size="9.3">hPa</text>
<text transform="translate(3,68) scale(0.8961,1)" x="2.79 8.37 13.95 19.53" text-anchor="middle" fill="#228b22" stroke="#228b22" font-size="9.3">1<tspan class="z" font-size="8.92">0</tspan>33</text>
<text transform="translate(3,85) scale(0.8961,1)" x="2.79 8.37 13.95 19.53" text-anchor="middle" fill="#228b22" stroke="#228b22" font-size="9.3">1<tspan class="z" font-size="8.92">0</tspan>32</text>
<text transform="translate(3,103) scale(0.8961,1)" x="2.79 8.37 13.95 19.53" text-anchor="middle" fill="#228b22" stroke="#228b22" font-size="9.3">1<tspan class="z" font-size="8.92">0</tspan>31</text>
<text transform="translate(3,120) scale(0.8961,1)" x="2.79 8.37 13.95 19.53" text-anchor="middle" fill="#228b22" stroke="#228b22" font-size="9.3">1<tspan class="z" font-size="8.92">0</tspan>3<tspan class="z" font-size="8.92">0</tspan></text>
<text transform="translate(3,138) scale(0.8961,1)" x="2.79 8.37 13.95 19.53" text-anchor="middle" fill="#228b22" stroke="#228b22" font-size="9.3">1<tspan class="z" font-size="8.92">0</tspan>29</text>
<text transform="translate(3,156) scale(0.8961,1)" x="2.79 8.37 13.95 19.53" text-anchor="middle" fill="#228b22" stroke="#228b22" font-size="9.3">1<tspan class="z" font-size="8.92">0</tspan>28</text>
<text transform="translate(3,173) scale(0.8961,1)" x="2.79 8.37 13.95 19.53" text-anchor="middle" fill="#228b22" stroke="#228b22" font-size="9.3">1<tspan class="z" font-size="8.92">0</tspan>27</text>
<text transform="translate(3,191) scale(0.8961,1)" x="2.79 8.37 13.95 19.53" text-anchor="middle" fill="#228b22" stroke="#228b22" font-size="9.3">1<tspan class="z" font-size="8.92">0</tspan>26</text>
<text transform="translate(3,209) scale(0.8961,1)" x="2.79 8.37 13.95 19.53" text-anchor="middle" fill="#228b22" stroke="#228b22" font-size="9.3">1<tspan class="z" font-size="8.92">0</tspan>25</text>
<text transform="translate(3,226) scale(0.8961,1)" x="2.79 8.37 13.95 19.53" text-anchor="middle" fill="#228b22" stroke="#228b22" font-size="9.3">1<tspan class="z" font-size="8.92">0</tspan>24</text>
<text transform="translate(3,244) scale(0.8961,1)" x="2.79 8.37 13.95 19.53" text-anchor="middle" fill="#228b22" stroke="#228b22" font-size="9.3">1<tspan class="z" font-size="8.92">0</tspan>23</text>
<text transform="translate(3,262) scale(0.8961,1)" x="2.79 8.37 13.95 19.53" text-anchor="middle" fill="#228b22" stroke="#228b22" font-size="9.3">1<tspan class="z" font-size="8.92">0</tspan>22</text>
<text transform="translate(3,279) scale(0.8961,1)" x="2.79 8.37 13.95 19.53" text-anchor="middle" fill="#228b22" stroke="#228b22" font-size="9.3">1<tspan class="z" font-size="8.92">0</tspan>21</text>
<text transform="translate(3,297) scale(0.8961,1)" x="2.79 8.37 13.95 19.53" text-anchor="middle" fill="#228b22" stroke="#228b22" font-size="9.3">1<tspan class="z" font-size="8.92">0</tspan>2<tspan class="z" font-size="8.92">0</tspan></text>
<text transform="translate(3,315) scale(0.8961,1)" x="2.79 8.37 13.95 19.53" text-anchor="middle" fill="#228b22" stroke="#228b22" font-size="9.3">1<tspan class="z" font-size="8.92">0</tspan>19</text>
<text transform="translate(3,332) scale(0.8961,1)" x="2.79 8.37 13.95 19.53" text-anchor="middle" fill="#228b22" stroke="#228b22" font-size="9.3">1<tspan class="z" font-size="8.92">0</tspan>18</text>
<text transform="translate(3,350) scale(0.8961,1)" x="2.79 8.37 13.95 19.53" text-anchor="middle" fill="#228b22" stroke="#228b22" font-size="9.3">1<tspan class="z" font-size="8.92">0</tspan>17</text>
<text transform="translate(3,368) scale(0.8961,1)" x="2.79 8.37 13.95 19.53" text-anchor="middle" fill="#228b22" stroke="#228b22" font-size="9.3">1<tspan class="z" font-size="8.92">0</tspan>16</text>
<text transform="translate(40,57) scale(0.8961,1)" x="2.79" text-anchor="middle" fill="#9400d3" stroke="#9400d3" font-size="9.3">%</text>
<text transform="translate(30,68) scale(0.8961,1)" x="2.79 8.37 13.95" text-anchor="middle" fill="#9400d3" stroke="#9400d3" font-size="9.3">1<tspan class="z" font-size="8.92">0</tspan><tspan class="z" font-size="8.92">0</tspan></text>
<text transform="translate(35,98) scale(0.8961,1)" x="2.79 8.37" text-anchor="middle" fill="#9400d3" stroke="#9400d3" font-size="9.3">9<tspan class="z" font-size="8.92">0</tspan></text>
<text transform="translate(35,128) scale(0.8961,1)" x="2.79 8.37" text-anchor="middle" fill="#9400d3" stroke="#9400d3" font-size="9.3">8<tspan class="z" font-size="8.92">0</tspan></text>
<text transform="translate(35,158) scale(0.8961,1)" x="2.79 8.37" text-anchor="middle" fill="#9400d3" stroke="#9400d3" font-size="9.3">7<tspan class="z" font-size="8.92">0</tspan></text>
<text transform="translate(35,188) scale(0.8961,1)" x="2.79 8.37" text-anchor="middle" fill="#9400d3" stroke="#9400d3" font-size="9.3">6<tspan class="z" font-size="8.92">0</tspan></text>
<text transform="translate(35,218) scale(0.8961,1)" x="2.79 8.37" text-anchor="middle" fill="#9400d3" stroke="#9400d3" font-size="9.3">5<tspan class="z" font-size="8.92">0</tspan></text>
<text transform="translate(35,248) scale(0.8961,1)" x="2.79 8.37" text-anchor="middle" fill="#9400d3" stroke="#9400d3" font-size="9.3">4<tspan class="z" font-size="8.92">0</tspan></text>
<text transform="translate(35,278) scale(0.8961,1)" x="2.79 8.37" text-anchor="middle" fill="#9400d3" stroke="#9400d3" font-size="9.3">3<tspan class="z" font-size="8.92">0</tspan></text>
<text transform="translate(35,308) scale(0.8961,1)" x="2.79 8.37" text-anchor="middle" fill="#9400d3" stroke="#9400d3" font-size="9.3">2<tspan class="z" font-size="8.92">0</tspan></text>
<text transform="translate(35,338) scale(0.8961,1)" x="2.79 8.37" text-anchor="middle" fill="#9400d3" stroke="#9400d3" font-size="9.3">1<tspan class="z" font-size="8.92">0</tspan></text>
<text transform="translate(40,368) scale(0.8961,1)" x="2.79" text-anchor="middle" fill="#9400d3" stroke="#9400d3" font-size="9.3"><tspan class="z" font-size="8.92">0</tspan></text>
<text transform="translate(57.5,57) scale(0.8961,1)" x="2.79 8.37" text-anchor="middle" fill="#ff0000" stroke="#ff0000" font-size="9.3">°C</text>
<text transform="translate(57,68) scale(0.8961,1)" x="2.79 8.37" text-anchor="middle" fill="#ff0000" stroke="#ff0000" font-size="9.3">23</text>
<text transform="translate(57,93) scale(0.8961,1)" x="2.79 8.37" text-anchor="middle" fill="#ff0000" stroke="#ff0000" font-size="9.3">21</text>
<text transform="translate(57,118) scale(0.8961,1)" x="2.79 8.37" text-anchor="middle" fill="#ff0000" stroke="#ff0000" font-size="9.3">19</text>
<text transform="translate(57,143) scale(0.8961,1)" x="2.79 8.37" text-anchor="middle" fill="#ff0000" stroke="#ff0000" font-size="9.3">17</text>
<text transform="translate(57,168) scale(0.8961,1)" x="2.79 8.37" text-anchor="middle" fill="#ff0000" stroke="#ff0000" font-size="9.3">15</text>
<text transform="translate(57,193) scale(0.8961,1)" x="2.79 8.37" text-anchor="middle" fill="#ff0000" stroke="#ff0000" font-size="9.3">13</text>
<text transform="translate(57,218) scale(0.8961,1)" x="2.79 8.37" text-anchor="middle" fill="#ff0000" stroke="#ff0000" font-size="9.3">11</text>
<text transform="translate(62,243) scale(0.8961,1)" x="2.79" text-anchor="middle" fill="#ff0000" stroke="#ff0000" font-size="9.3">9</text>
<text transform="translate(62,268) scale(0.8961,1)" x="2.79" text-anchor="middle" fill="#ff0000" stroke="#ff0000" font-size="9.3">7</text>
<text transform="translate(62,293) scale(0.8961,1)" x="2.79" text-anchor="middle" fill="#ff0000" stroke="#ff0000" font-size="9.3">5</text>
<text transform="translate(62,318) scale(0.8961,1)" x="2.79" text-anchor="middle" fill="#ff0000" stroke="#ff0000" font-size="9.3">3</text>
<text transform="translate(62,343) scale(0.8961,1)" x="2.79" text-anchor="middle" fill="#ff0000" stroke="#ff0000" font-size="9.3">1</text>
<text transform="translate(62,355) scale(0.8961,1)" x="2.79" text-anchor="middle" fill="#ff0000" stroke="#ff0000" font-size="9.3"><tspan class="z" font-size="8.92">0</tspan></text>
<text transform="translate(57,368) scale(0.8961,1)" x="2.79 8.37" text-anchor="middle" fill="#ff0000" stroke="#ff0000" font-size="9.3">-1</text>
<text transform="translate(826,57) scale(0.8961,1)" x="2.79" text-anchor="middle" fill="#606060" stroke="#606060" font-size="9.3" stroke-width="0">°</text>
<text transform="translate(826,68) scale(0.8961,1)" x="2.79 8.37 13.95" text-anchor="middle" fill="#606060" stroke="#606060" font-size="9.3" stroke-width="0">36<tspan class="z" font-size="8.92">0</tspan></text>
<text transform="translate(831,76) scale(0.8961,1)" x="2.79" text-anchor="middle" fill="#606060" stroke="#606060" font-size="9.3" stroke-width="0">N</text>
<text transform="translate(826,105) scale(0.8961,1)" x="2.79 8.37 13.95" text-anchor="middle" fill="#606060" stroke="#606060" font-size="9.3" stroke-width="0">315</text>
<text transform="translate(826,113) scale(0.8961,1)" x="2.79 8.37" text-anchor="middle" fill="#606060" stroke="#606060" font-size="9.3" stroke-width="0">NW</text>
<text transform="translate(826,143) scale(0.8961,1)" x="2.79 8.37 13.95" text-anchor="middle" fill="#606060" stroke="#606060" font-size="9.3" stroke-width="0">27<tspan class="z" font-size="8.92">0</tspan></text>
<text transform="translate(831,151) scale(0.8961,1)" x="2.79" text-anchor="middle" fill="#606060" stroke="#606060" font-size="9.3" stroke-width="0">W</text>
<text transform="translate(826,180) scale(0.8961,1)" x="2.79 8.37 13.95" text-anchor="middle" fill="#606060" stroke="#606060" font-size="9.3" stroke-width="0">225</text>
<text transform="translate(826,188) scale(0.8961,1)" x="2.79 8.37" text-anchor="middle" fill="#606060" stroke="#606060" font-size="9.3" stroke-width="0">SW</text>
<text transform="translate(826,218) scale(0.8961,1)" x="2.79 8.37 13.95" text-anchor="middle" fill="#606060" stroke="#606060" font-size="9.3" stroke-width="0">18<tspan class="z" font-size="8.92">0</tspan></text>
<text transform="translate(831,226) scale(0.8961,1)" x="2.79" text-anchor="middle" fill="#606060" stroke="#606060" font-size="9.3" stroke-width="0">S</text>
<text transform="translate(826,255) scale(0.8961,1)" x="2.79 8.37 13.95" text-anchor="middle" fill="#606060" stroke="#606060" font-size="9.3" stroke-width="0">135</text>
<text transform="translate(826,263) scale(0.8961,1)" x="2.79 8.37" text-anchor="middle" fill="#606060" stroke="#606060" font-size="9.3" stroke-width="0">SE</text>
<text transform="translate(826,293) scale(0.8961,1)" x="2.79 8.37" text-anchor="middle" fill="#606060" stroke="#606060" font-size="9.3" stroke-width="0">9<tspan class="z" font-size="8.92">0</tspan></text>
<text transform="translate(831,301) scale(0.8961,1)" x="2.79" text-anchor="middle" fill="#606060" stroke="#606060" font-size="9.3" stroke-width="0">E</text>
<text transform="translate(826,330) scale(0.8961,1)" x="2.79 8.37" text-anchor="middle" fill="#606060" stroke="#606060" font-size="9.3" stroke-width="0">45</text>
<text transform="translate(826,338) scale(0.8961,1)" x="2.79 8.37" text-anchor="middle" fill="#606060" stroke="#606060" font-size="9.3" stroke-width="0">NE</text>
<text transform="translate(846,57) scale(0.8244,1)" x="2.79 8.37 13.95" text-anchor="middle" fill="#000" stroke="#000" font-size="9.3" font-style="italic" stroke-width="0.15">m/s</text>
<text transform="translate(846,368) scale(0.8961,1)" x="2.79" text-anchor="middle" fill="#000" stroke="#000" font-size="9.3" stroke-width="0.3"><tspan class="z" font-size="8.92">0</tspan></text>
<text transform="translate(846,325) scale(0.8961,1)" x="2.79" text-anchor="middle" fill="#000" stroke="#000" font-size="9.3" stroke-width="0.3">1</text>
<text transform="translate(846,282) scale(0.8961,1)" x="2.79" text-anchor="middle" fill="#000" stroke="#000" font-size="9.3" stroke-width="0.3">2</text>
<text transform="translate(846,239) scale(0.8961,1)" x="2.79" text-anchor="middle" fill="#000" stroke="#000" font-size="9.3" stroke-width="0.3">3</text>
<text transform="translate(862.5,57) scale(0.9319,1)" x="2.79 8.37" text-anchor="middle" fill="#00bfff" stroke="#00bfff" font-size="9.3" stroke-width="0">mm</text>
<text transform="translate(864,68) scale(0.8961,1)" x="2.79" text-anchor="middle" fill="#00bfff" stroke="#00bfff" font-size="9.3" stroke-width="0.1">1</text>
<text transform="translate(864,368) scale(0.8961,1)" x="2.79" text-anchor="middle" fill="#00bfff" stroke="#00bfff" font-size="9.3" stroke-width="0.1"><tspan class="z" font-size="8.92">0</tspan></text>
<text transform="translate(833,377.5) scale(0.8961,1)" x="2.79 8.37 13.95" text-anchor="middle" fill="#000" stroke="#000" font-size="9.3" font-style="italic" stroke-width="0.15">čas</text>
<g transform="translate(72.8,397) rotate(-90)">
<text transform="translate(0,0) scale(0.8961,1)" x="2.79 8.37 13.95 19.53 25.11" text-anchor="middle" fill="#000" stroke="#000" font-size="9.3" stroke-width="0.6"><tspan class="z" font-size="8.92">0</tspan><tspan class="z" font-size="8.92">0</tspan>:<tspan class="z" font-size="8.92">0</tspan><tspan class="z" font-size="8.92">0</tspan></text>
</g>
<g transform="translate(87.8,397) rotate(-90)">
<text transform="translate(0,0) scale(0.8961,1)" x="2.79 8.37 13.95 19.53 25.11" text-anchor="middle" fill="#000" stroke="#000" font-size="9.3" stroke-width="0.6"><tspan class="z" font-size="8.92">0</tspan><tspan class="z" font-size="8.92">0</tspan>:3<tspan class="z" font-size="8.92">0</tspan></text>
</g>
<g transform="translate(103.8,397) rotate(-90)">
<text transform="translate(0,0) scale(0.8961,1)" x="2.79 8.37 13.95 19.53 25.11" text-anchor="middle" fill="#000" stroke="#000" font-size="9.3" stroke-width="0.6"><tspan class="z" font-size="8.92">0</tspan>1:<tspan class="z" font-size="8.92">0</tspan><tspan class="z" font-size="8.92">0</tspan></text>
</g>
<g transform="translate(119.8,397) rotate(-90)">
<text transform="translate(0,0) scale(0.8961,1)" x="2.79 8.37 13.95 19.53 25.11" text-anchor="middle" fill="#000" stroke="#000" font-size="9.3" stroke-width="0.6"><tspan class="z" font-size="8.92">0</tspan>1:3<tspan class="z" font-size="8.92">0</tspan></text>
</g>
<g transform="translate(134.8,397) rotate(-90)">
<text transform="translate(0,0) scale(0.8961,1)" x="2.79 8.37 13.95 19.53 25.11" text-anchor="middle" fill="#000" stroke="#000" font-size="9.3" stroke-width="0.6"><tspan class="z" font-size="8.92">0</tspan>2:<tspan class="z" font-size="8.92">0</tspan><tspan class="z" font-size="8.92">0</tspan></text>
</g>
<g transform="translate(150.8,397) rotate(-90)">
<text transform="translate(0,0) scale(0.8961,1)" x="2.79 8.37 13.95 19.53 25.11" text-anchor="middle" fill="#000" stroke="#000" font-size="9.3" stroke-width="0.6"><tspan class="z" font-size="8.92">0</tspan>2:3<tspan class="z" font-size="8.92">0</tspan></text>
</g>
<g transform="translate(166.8,397) rotate(-90)">
<text transform="translate(0,0) scale(0.8961,1)" x="2.79 8.37 13.95 19.53 25.11" text-anchor="middle" fill="#000" stroke="#000" font-size="9.3" stroke-width="0.6"><tspan class="z" font-size="8.92">0</tspan>3:<tspan class="z" font-size="8.92">0</tspan><tspan class="z" font-size="8.92">0</tspan></text>
</g>
<g transform="translate(182.8,397) rotate(-90)">
<text transform="translate(0,0) scale(0.8961,1)" x="2.79 8.37 13.95 19.53 25.11" text-anchor="middle" fill="#000" stroke="#000" font-size="9.3" stroke-width="0.6"><tspan class="z" font-size="8.92">0</tspan>3:3<tspan class="z" font-size="8.92">0</tspan></text>
</g>
<g transform="translate(197.8,397) rotate(-90)">
<text transform="translate(0,0) scale(0.8961,1)" x="2.79 8.37 13.95 19.53 25.11" text-anchor="middle" fill="#000" stroke="#000" font-size="9.3" stroke-width="0.6"><tspan class="z" font-size="8.92">0</tspan>4:<tspan class="z" font-size="8.92">0</tspan><tspan class="z" font-size="8.92">0</tspan></text>
</g>
<g transform="translate(213.8,397) rotate(-90)">
<text transform="translate(0,0) scale(0.8961,1)" x="2.79 8.37 13.95 19.53 25.11" text-anchor="middle" fill="#000" stroke="#000" font-size="9.3" stroke-width="0.6"><tspan class="z" font-size="8.92">0</tspan>4:3<tspan class="z" font-size="8.92">0</tspan></text>
</g>
<g transform="translate(229.8,397) rotate(-90)">
<text transform="translate(0,0) scale(0.8961,1)" x="2.79 8.37 13.95 19.53 25.11" text-anchor="middle" fill="#000" stroke="#000" font-size="9.3" stroke-width="0.6"><tspan class="z" font-size="8.92">0</tspan>5:<tspan class="z" font-size="8.92">0</tspan><tspan class="z" font-size="8.92">0</tspan></text>
</g>
<g transform="translate(245.8,397) rotate(-90)">
<text transform="translate(0,0) scale(0.8961,1)" x="2.79 8.37 13.95 19.53 25.11" text-anchor="middle" fill="#000" stroke="#000" font-size="9.3" stroke-width="0.6"><tspan class="z" font-size="8.92">0</tspan>5:3<tspan class="z" font-size="8.92">0</tspan></text>
</g>
<g transform="translate(260.8,397) rotate(-90)">
<text transform="translate(0,0) scale(0.8961,1)" x="2.79 8.37 13.95 19.53 25.11" text-anchor="middle" fill="#000" stroke="#000" font-size="9.3" stroke-width="0.6"><tspan class="z" font-size="8.92">0</tspan>6:<tspan class="z" font-size="8.92">0</tspan><tspan class="z" font-size="8.92">0</tspan></text>
</g>
<g transform="translate(276.8,397) rotate(-90)">
<text transform="translate(0,0) scale(0.8961,1)" x="2.79 8.37 13.95 19.53 25.11" text-anchor="middle" fill="#000" stroke="#000" font-size="9.3" stroke-width="0.6"><tspan class="z" font-size="8.92">0</tspan>6:3<tspan class="z" font-size="8.92">0</tspan></text>
</g>
<g transform="translate(292.8,397) rotate(-90)">
<text transform="translate(0,0) scale(0.8961,1)" x="2.79 8.37 13.95 19.53 25.11" text-anchor="middle" fill="#000" stroke="#000" font-size="9.3" stroke-width="0.6"><tspan class="z" font-size="8.92">0</tspan>7:<tspan class="z" font-size="8.92">0</tspan><tspan class="z" font-size="8.92">0</tspan></text>
</g>
<g transform="translate(308.8,397) rotate(-90)">
<text transform="translate(0,0) scale(0.8961,1)" x="2.79 8.37 13.95 19.53 25.11" text-anchor="middle" fill="#000" stroke="#000" font-size="9.3" stroke-width="0.6"><tspan class="z" font-size="8.92">0</tspan>7:3<tspan class="z" font-size="8.92">0</tspan></text>
</g>
<g transform="translate(323.8,397) rotate(-90)">
<text transform="translate(0,0) scale(0.8961,1)" x="2.79 8.37 13.95 19.53 25.11" text-anchor="middle" fill="#000" stroke="#000" font-size="9.3" stroke-width="0.6"><tspan class="z" font-size="8.92">0</tspan>8:<tspan class="z" font-size="8.92">0</tspan><tspan class="z" font-size="8.92">0</tspan></text>
</g>
<g transform="translate(339.8,397) rotate(-90)">
<text transform="translate(0,0) scale(0.8961,1)" x="2.79 8.37 13.95 19.53 25.11" text-anchor="middle" fill="#000" stroke="#000" font-size="9.3" stroke-width="0.6"><tspan class="z" font-size="8.92">0</tspan>8:3<tspan class="z" font-size="8.92">0</tspan></text>
</g>
<g transform="translate(355.8,397) rotate(-90)">
<text transform="translate(0,0) scale(0.8961,1)" x="2.79 8.37 13.95 19.53 25.11" text-anchor="middle" fill="#000" stroke="#000" font-size="9.3" stroke-width="0.6"><tspan class="z" font-size="8.92">0</tspan>9:<tspan class="z" font-size="8.92">0</tspan><tspan class="z" font-size="8.92">0</tspan></text>
</g>
<g transform="translate(371.8,397) rotate(-90)">
<text transform="translate(0,0) scale(0.8961,1)" x="2.79 8.37 13.95 19.53 25.11" text-anchor="middle" fill="#000" stroke="#000" font-size="9.3" stroke-width="0.6"><tspan class="z" font-size="8.92">0</tspan>9:3<tspan class="z" font-size="8.92">0</tspan></text>
</g>
<g transform="translate(386.8,397) rotate(-90)">
<text transform="translate(0,0) scale(0.8961,1)" x="2.79 8.37 13.95 19.53 25.11" text-anchor="middle" fill="#000" stroke="#000" font-size="9.3" stroke-width="0.6">1<tspan class="z" font-size="8.92">0</tspan>:<tspan class="z" font-size="8.92">0</tspan><tspan class="z" font-size="8.92">0</tspan></text>
</g>
<g transform="translate(402.8,397) rotate(-90)">
<text transform="translate(0,0) scale(0.8961,1)" x="2.79 8.37 13.95 19.53 25.11" text-anchor="middle" fill="#000" stroke="#000" font-size="9.3" stroke-width="0.6">1<tspan class="z" font-size="8.92">0</tspan>:3<tspan class="z" font-size="8.92">0</tspan></text>
</g>
<g transform="translate(418.8,397) rotate(-90)">
<text transform="translate(0,0) scale(0.8961,1)" x="2.79 8.37 13.95 19.53 25.11" text-anchor="middle" fill="#000" stroke="#000" font-size="9.3" stroke-width="0.6">11:<tspan class="z" font-size="8.92">0</tspan><tspan class="z" font-size="8.92">0</tspan></text>
</g>
<g transform="translate(434.8,397) rotate(-90)">
<text transform="translate(0,0) scale(0.8961,1)" x="2.79 8.37 13.95 19.53 25.11" text-anchor="middle" fill="#000" stroke="#000" font-size="9.3" stroke-width="0.6">11:3<tspan class="z" font-size="8.92">0</tspan></text>
</g>
<g transform="translate(449.8,397) rotate(-90)">
<text transform="translate(0,0) scale(0.8961,1)" x="2.79 8.37 13.95 19.53 25.11" text-anchor="middle" fill="#000" stroke="#000" font-size="9.3" stroke-width="0.6">12:<tspan class="z" font-size="8.92">0</tspan><tspan class="z" font-size="8.92">0</tspan></text>
</g>
<g transform="translate(465.8,397) rotate(-90)">
<text transform="translate(0,0) scale(0.8961,1)" x="2.79 8.37 13.95 19.53 25.11" text-anchor="middle" fill="#000" stroke="#000" font-size="9.3" stroke-width="0.6">12:3<tspan class="z" font-size="8.92">0</tspan></text>
</g>
<g transform="translate(481.8,397) rotate(-90)">
<text transform="translate(0,0) scale(0.8961,1)" x="2.79 8.37 13.95 19.53 25.11" text-anchor="middle" fill="#000" stroke="#000" font-size="9.3" stroke-width="0.6">13:<tspan class="z" font-size="8.92">0</tspan><tspan class="z" font-size="8.92">0</tspan></text>
</g>
<g transform="translate(497.8,397) rotate(-90)">
<text transform="translate(0,0) scale(0.8961,1)" x="2.79 8.37 13.95 19.53 25.11" text-anchor="middle" fill="#000" stroke="#000" font-size="9.3" stroke-width="0.6">13:3<tspan class="z" font-size="8.92">0</tspan></text>
</g>
<g transform="translate(512.8,397) rotate(-90)">
<text transform="translate(0,0) scale(0.8961,1)" x="2.79 8.37 13.95 19.53 25.11" text-anchor="middle" fill="#000" stroke="#000" font-size="9.3" stroke-width="0.6">14:<tspan class="z" font-size="8.92">0</tspan><tspan class="z" font-size="8.92">0</tspan></text>
</g>
<g transform="translate(528.8,397) rotate(-90)">
<text transform="translate(0,0) scale(0.8961,1)" x="2.79 8.37 13.95 19.53 25.11" text-anchor="middle" fill="#000" stroke="#000" font-size="9.3" stroke-width="0.6">14:3<tspan class="z" font-size="8.92">0</tspan></text>
</g>
<g transform="translate(544.8,397) rotate(-90)">
<text transform="translate(0,0) scale(0.8961,1)" x="2.79 8.37 13.95 19.53 25.11" text-anchor="middle" fill="#000" stroke="#000" font-size="9.3" stroke-width="0.6">15:<tspan class="z" font-size="8.92">0</tspan><tspan class="z" font-size="8.92">0</tspan></text>
</g>
<g transform="translate(560.8,397) rotate(-90)">
<text transform="translate(0,0) scale(0.8961,1)" x="2.79 8.37 13.95 19.53 25.11" text-anchor="middle" fill="#000" stroke="#000" font-size="9.3" stroke-width="0.6">15:3<tspan class="z" font-size="8.92">0</tspan></text>
</g>
<g transform="translate(575.8,397) rotate(-90)">
<text transform="translate(0,0) scale(0.8961,1)" x="2.79 8.37 13.95 19.53 25.11" text-anchor="middle" fill="#000" stroke="#000" font-size="9.3" stroke-width="0.6">16:<tspan class="z" font-size="8.92">0</tspan><tspan class="z" font-size="8.92">0</tspan></text>
</g>
<g transform="translate(591.8,397) rotate(-90)">
<text transform="translate(0,0) scale(0.8961,1)" x="2.79 8.37 13.95 19.53 25.11" text-anchor="middle" fill="#000" stroke="#000" font-size="9.3" stroke-width="0.6">16:3<tspan class="z" font-size="8.92">0</tspan></text>
</g>
<g transform="translate(607.8,397) rotate(-90)">
<text transform="translate(0,0) scale(0.8961,1)" x="2.79 8.37 13.95 19.53 25.11" text-anchor="middle" fill="#000" stroke="#000" font-size="9.3" stroke-width="0.6">17:<tspan class="z" font-size="8.92">0</tspan><tspan class="z" font-size="8.92">0</tspan></text>
</g>
<g transform="translate(622.8,397) rotate(-90)">
<text transform="translate(0,0) scale(0.8961,1)" x="2.79 8.37 13.95 19.53 25.11" text-anchor="middle" fill="#000" stroke="#000" font-size="9.3" stroke-width="0.6">17:3<tspan class="z" font-size="8.92">0</tspan></text>
</g>
<g transform="translate(638.8,397) rotate(-90)">
<text transform="translate(0,0) scale(0.8961,1)" x="2.79 8.37 13.95 19.53 25.11" text-anchor="middle" fill="#000" stroke="#000" font-size="9.3" stroke-width="0.6">18:<tspan class="z" font-size="8.92">0</tspan><tspan class="z" font-size="8.92">0</tspan></text>
</g>
<g transform="translate(654.8,397) rotate(-90)">
<text transform="translate(0,0) scale(0.8961,1)" x="2.79 8.37 13.95 19.53 25.11" text-anchor="middle" fill="#000" stroke="#000" font-size="9.3" stroke-width="0.6">18:3<tspan class="z" font-size="8.92">0</tspan></text>
</g>
<g transform="translate(670.8,397) rotate(-90)">
<text transform="translate(0,0) scale(0.8961,1)" x="2.79 8.37 13.95 19.53 25.11" text-anchor="middle" fill="#000" stroke="#000" font-size="9.3" stroke-width="0.6">19:<tspan class="z" font-size="8.92">0</tspan><tspan class="z" font-size="8.92">0</tspan></text>
</g>
<g transform="translate(685.8,397) rotate(-90)">
<text transform="translate(0,0) scale(0.8961,1)" x="2.79 8.37 13.95 19.53 25.11" text-anchor="middle" fill="#000" stroke="#000" font-size="9.3" stroke-width="0.6">19:3<tspan class="z" font-size="8.92">0</tspan></text>
</g>
<g transform="translate(701.8,397) rotate(-90)">
<text transform="translate(0,0) scale(0.8961,1)" x="2.79 8.37 13.95 19.53 25.11" text-anchor="middle" fill="#000" stroke="#000" font-size="9.3" stroke-width="0.6">2<tspan class="z" font-size="8.92">0</tspan>:<tspan class="z" font-size="8.92">0</tspan><tspan class="z" font-size="8.92">0</tspan></text>
</g>
<g transform="translate(717.8,397) rotate(-90)">
<text transform="translate(0,0) scale(0.8961,1)" x="2.79 8.37 13.95 19.53 25.11" text-anchor="middle" fill="#000" stroke="#000" font-size="9.3" stroke-width="0.6">2<tspan class="z" font-size="8.92">0</tspan>:3<tspan class="z" font-size="8.92">0</tspan></text>
</g>
<g transform="translate(733.8,397) rotate(-90)">
<text transform="translate(0,0) scale(0.8961,1)" x="2.79 8.37 13.95 19.53 25.11" text-anchor="middle" fill="#000" stroke="#000" font-size="9.3" stroke-width="0.6">21:<tspan class="z" font-size="8.92">0</tspan><tspan class="z" font-size="8.92">0</tspan></text>
</g>
<g transform="translate(748.8,397) rotate(-90)">
<text transform="translate(0,0) scale(0.8961,1)" x="2.79 8.37 13.95 19.53 25.11" text-anchor="middle" fill="#000" stroke="#000" font-size="9.3" stroke-width="0.6">21:3<tspan class="z" font-size="8.92">0</tspan></text>
</g>
<g transform="translate(764.8,397) rotate(-90)">
<text transform="translate(0,0) scale(0.8961,1)" x="2.79 8.37 13.95 19.53 25.11" text-anchor="middle" fill="#000" stroke="#000" font-size="9.3" stroke-width="0.6">22:<tspan class="z" font-size="8.92">0</tspan><tspan class="z" font-size="8.92">0</tspan></text>
</g>
<g transform="translate(780.8,397) rotate(-90)">
<text transform="translate(0,0) scale(0.8961,1)" x="2.79 8.37 13.95 19.53 25.11" text-anchor="middle" fill="#000" stroke="#000" font-size="9.3" stroke-width="0.6">22:3<tspan class="z" font-size="8.92">0</tspan></text>
</g>
<g transform="translate(796.8,397) rotate(-90)">
<text transform="translate(0,0) scale(0.8961,1)" x="2.79 8.37 13.95 19.53 25.11" text-anchor="middle" fill="#000" stroke="#000" font-size="9.3" stroke-width="0.6">23:<tspan class="z" font-size="8.92">0</tspan><tspan class="z" font-size="8.92">0</tspan></text>
</g>
<g transform="translate(811.8,397) rotate(-90)">
<text transform="translate(0,0) scale(0.8961,1)" x="2.79 8.37 13.95 19.53 25.11" text-anchor="middle" fill="#000" stroke="#000" font-size="9.3" stroke-width="0.6">23:3<tspan class="z" font-size="8.92">0</tspan></text>
</g>
<g shape-rendering="crispEdges">
<rect x="0" y="0" width="900" height="1" fill="#000"/>
<rect x="0" y="399" width="900" height="1" fill="#000"/>
<rect x="0" y="0" width="1" height="400" fill="#000"/>
<rect x="899" y="0" width="1" height="400" fill="#000"/>
</g>
</svg>
</body></html>
